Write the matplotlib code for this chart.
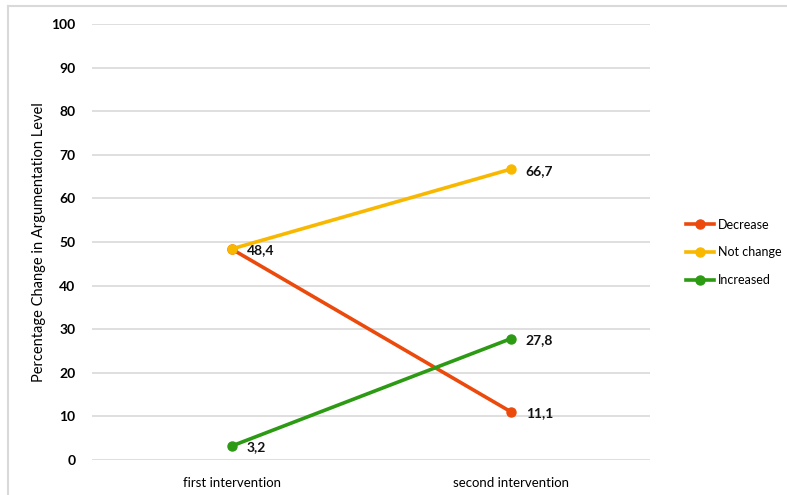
import matplotlib.pyplot as plt
from matplotlib.lines import Line2D

plt.rcParams['font.family'] = ['Lato', 'DejaVu Sans']

stages = ['first intervention', 'second intervention']
decrease = [48.4, 11.1]
not_change = [48.4, 66.7]
increased = [3.2, 27.8]

series = [
    ('Decrease', decrease, '#EC4A0C'),
    ('Not change', not_change, '#F9B800'),
    ('Increased', increased, '#2C9A13'),
]

fig = plt.figure(figsize=(7.87, 4.95), dpi=100)
ax = fig.add_axes([0.117, 0.0707, 0.709, 0.8808])

x = list(range(len(stages)))
for name, vals, col in series:
    ax.plot(x, vals, color=col, lw=2.6, marker='o', ms=6.5, label=name, zorder=3)

# value labels next to the points (the shared 48,4 point gets one label)
labelled = set()
for name, vals, col in series:
    for xi, v in zip(x, vals):
        if (xi, v) in labelled:
            continue
        labelled.add((xi, v))
        ax.annotate(f'{v:.1f}'.replace('.', ','), (xi, v), xytext=(11, -1),
                    textcoords='offset points', ha='left', va='center',
                    fontsize=10, fontweight='bold', color='#111111', zorder=4)

ax.set_xlim(-0.5, 1.5)
ax.set_ylim(0, 100)
ax.set_yticks(range(0, 101, 10))
ax.set_xticks(x)
ax.set_xticklabels(stages, fontsize=9.5)
for t in ax.get_yticklabels():
    t.set_fontweight('bold')
    t.set_fontsize(10)
ax.tick_params(length=0)
ax.tick_params(axis='y', pad=12)
ax.tick_params(axis='x', pad=12)
ax.grid(axis='y', color='#d9d9d9', lw=1.2)
ax.set_axisbelow(True)
for s in ax.spines.values():
    s.set_visible(False)
ax.set_ylabel('Percentage Change in Argumentation Level', fontsize=10.5)
ax.yaxis.set_label_coords(-0.083, 0.5)

fig.legend(loc='center left', bbox_to_anchor=(0.857, 0.49), frameon=False,
           fontsize=9, handlelength=2.3, handletextpad=0.25, labelspacing=1.25)

# light frame along the top and left edges
fig.add_artist(Line2D([0.010, 1.0], [0.988, 0.988], color='#d9d9d9', lw=1.5,
                      transform=fig.transFigure))
fig.add_artist(Line2D([0.010, 0.010], [0.0, 0.988], color='#d9d9d9', lw=1.5,
                      transform=fig.transFigure))

fig.savefig('out.png', dpi=100)
